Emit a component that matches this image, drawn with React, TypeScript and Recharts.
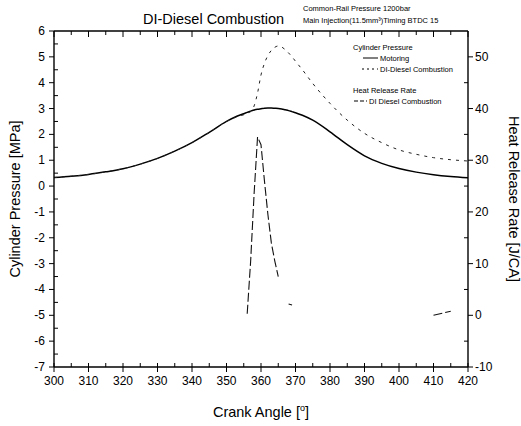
import { Line, LineChart, XAxis, YAxis } from "recharts";

const crankAngle = [
  300, 305, 310, 315, 320, 325, 330, 335, 340, 345, 350, 353, 355, 356, 357,
  358, 359, 360, 361, 362, 363, 364, 365, 366, 367, 368, 369, 370, 372, 375,
  380, 385, 390, 395, 400, 405, 410, 415, 420,
];

const motoringPressure = [
  0.33, 0.38, 0.45, 0.55, 0.67, 0.85, 1.07, 1.35, 1.68, 2.08, 2.5, 2.7, 2.8,
  2.85, 2.9, 2.94, 2.97, 2.99, 3.01, 3.02, 3.02, 3.01, 3.0, 2.98, 2.95, 2.92,
  2.88, 2.84, 2.74, 2.55, 2.1, 1.6, 1.17, 0.88, 0.68, 0.54, 0.44, 0.37, 0.32,
];

const combustionPressure = [
  0.33, 0.38, 0.45, 0.55, 0.67, 0.85, 1.07, 1.35, 1.68, 2.08, 2.5, 2.68, 2.76,
  2.82, 2.88, 3.1, 3.6, 4.3, 4.75, 5.05, 5.25, 5.37, 5.42, 5.38, 5.28, 5.15,
  5.0, 4.83, 4.5, 3.97, 3.2, 2.55, 2.04, 1.68, 1.4, 1.23, 1.1, 1.02, 0.97,
];

const heatReleaseRate = [
  null, null, null, null, null, null, null, null, null, null, null, null, null,
  0.3, 10.5, 23.5, 34.5, 33, 26, 19.5, 14, 10.5, 7.5, null, null, 2.2,
  2.0, null, null, null, null, null, null, null, null, null, 0, 0.8, null,
];

const angleTicks = [300, 310, 320, 330, 340, 350, 360, 370, 380, 390, 400, 410, 420];
const angleMinorTicks = [
  305, 315, 325, 335, 345, 355, 365, 375, 385, 395, 405, 415,
];
const pressureTicks = [-7, -6, -5, -4, -3, -2, -1, 0, 1, 2, 3, 4, 5, 6];
const pressureMinorTicks = [
  -6.5, -5.5, -4.5, -3.5, -2.5, -1.5, -0.5, 0.5, 1.5, 2.5, 3.5, 4.5, 5.5,
];
const hrrTicks = [-10, 0, 10, 20, 30, 40, 50];
const hrrMinorTicks = [-5, 5, 15, 25, 35, 45];

const data = crankAngle.map((angle, i) => ({
  angle,
  motoring: motoringPressure[i],
  combustion: combustionPressure[i],
  hrr: heatReleaseRate[i],
}));

const font = "'Liberation Sans', Arial, sans-serif";

// draws major/minor tick lines and labels from the axis position itself
function makeTick(side: "left" | "right" | "top" | "bottom", majors: number[], labels = true) {
  return (props: any) => {
    const { x, y, payload } = props;
    const v = payload.value;
    const major = majors.includes(v);
    const s = { stroke: "#000", strokeWidth: 1 };
    let ln = null;
    let label = null;
    if (side === "left") {
      ln = major ? <line x1={x - 5} y1={y} x2={x} y2={y} {...s} /> : <line x1={x} y1={y} x2={x + 4} y2={y} {...s} />;
      if (major && labels)
        label = <text x={x - 9} y={y + 4} textAnchor="end" fontSize={12} fill="#000">{v}</text>;
    } else if (side === "right") {
      ln = major ? <line x1={x} y1={y} x2={x + 5} y2={y} {...s} /> : <line x1={x - 4} y1={y} x2={x} y2={y} {...s} />;
      if (major && labels)
        label = <text x={x + 7} y={y + 4} textAnchor="start" fontSize={12} fill="#000">{v}</text>;
    } else if (side === "bottom") {
      ln = major ? <line x1={x} y1={y - 4} x2={x} y2={y + 5} {...s} /> : <line x1={x} y1={y - 4} x2={x} y2={y} {...s} />;
      if (major && labels)
        label = <text x={x} y={y + 18} textAnchor="middle" fontSize={12} fill="#000">{v}</text>;
    } else {
      ln = <line x1={x} y1={y} x2={x} y2={y + (major ? 6 : 4)} {...s} />;
    }
    return (
      <g fontFamily={font}>
        {ln}
        {label}
      </g>
    );
  };
}

export default function App() {
  return (
    <div
      style={{
        position: "absolute",
        left: 0,
        top: 0,
        width: 521,
        height: 426,
        background: "#fff",
        fontFamily: font,
      }}
    >
      <LineChart
        width={521}
        height={426}
        data={data}
        margin={{ top: 30, right: 0, bottom: 29, left: 0 }}
      >
        <XAxis
          xAxisId="b"
          dataKey="angle"
          type="number"
          domain={[300, 420]}
          ticks={[...angleTicks, ...angleMinorTicks]}
          interval={0}
          height={30}
          tickSize={0}
          tickMargin={0}
          tickLine={false}
          stroke="#000"
          strokeWidth={1.4}
          tick={makeTick("bottom", angleTicks)}
        />
        <XAxis
          xAxisId="t"
          orientation="top"
          dataKey="angle"
          type="number"
          domain={[300, 420]}
          ticks={[...angleTicks, ...angleMinorTicks]}
          interval={0}
          height={1}
          tickSize={0}
          tickMargin={0}
          tickLine={false}
          stroke="#000"
          strokeWidth={1.4}
          tick={makeTick("top", angleTicks, false)}
        />
        <YAxis
          yAxisId="p"
          domain={[-7, 6]}
          ticks={[...pressureTicks, ...pressureMinorTicks]}
          interval={0}
          width={54}
          tickSize={0}
          tickMargin={0}
          tickLine={false}
          stroke="#000"
          strokeWidth={1.4}
          tick={makeTick("left", pressureTicks)}
        />
        <YAxis
          yAxisId="h"
          orientation="right"
          domain={[-10, 55]}
          ticks={[...hrrTicks, ...hrrMinorTicks]}
          interval={0}
          width={53}
          tickSize={0}
          tickMargin={0}
          tickLine={false}
          stroke="#000"
          strokeWidth={1.4}
          tick={makeTick("right", hrrTicks)}
        />
        <Line
          xAxisId="b"
          yAxisId="p"
          dataKey="motoring"
          type="monotone"
          stroke="#000"
          strokeWidth={1.5}
          dot={false}
          isAnimationActive={false}
        />
        <Line
          xAxisId="b"
          yAxisId="p"
          dataKey="combustion"
          type="monotone"
          stroke="#222"
          strokeWidth={1}
          strokeDasharray="3 5"
          dot={false}
          isAnimationActive={false}
        />
        <Line
          xAxisId="b"
          yAxisId="h"
          dataKey="hrr"
          type="linear"
          stroke="#111"
          strokeWidth={1.1}
          strokeDasharray="9 3"
          dot={false}
          connectNulls={false}
          isAnimationActive={false}
        />
      </LineChart>

      <svg
        width={521}
        height={426}
        style={{ position: "absolute", left: 0, top: 0, pointerEvents: "none" }}
        fontFamily={font}
      >
        <text x={143} y={24} fontSize={14.5} fill="#000">
          DI-Diesel Combustion
        </text>
        <text x={303} y={11} fontSize={7.5} fill="#000">
          Common-Rail Pressure 1200bar
        </text>
        <text x={303} y={23} fontSize={7.5} fill="#000">
          Main Injection(11.5mm³)Timing BTDC 15
        </text>

        <text x={353} y={50} fontSize={7.5} fill="#000">
          Cylinder Pressure
        </text>
        <line x1={363} y1={58} x2={378} y2={58} stroke="#000" strokeWidth={1} />
        <text x={380} y={61} fontSize={7.5} fill="#000">
          Motoring
        </text>
        <line
          x1={362}
          y1={69}
          x2={378}
          y2={69}
          stroke="#000"
          strokeWidth={1}
          strokeDasharray="2 3"
        />
        <text x={380} y={72} fontSize={7.5} fill="#000">
          DI-Diesel Combustion
        </text>
        <text x={353} y={93} fontSize={7.5} fill="#000">
          Heat Release Rate
        </text>
        <line
          x1={354}
          y1={101}
          x2={367}
          y2={101}
          stroke="#000"
          strokeWidth={1}
          strokeDasharray="4 2"
        />
        <text x={369} y={104} fontSize={7.5} fill="#000">
          DI Diesel Combustion
        </text>

        <text
          x={0}
          y={0}
          fontSize={14.5}
          fill="#000"
          textAnchor="middle"
          transform="translate(20 199) rotate(-90)"
        >
          Cylinder Pressure [MPa]
        </text>
        <text
          x={0}
          y={0}
          fontSize={14.5}
          fill="#000"
          textAnchor="middle"
          transform="translate(509 199) rotate(90)"
        >
          Heat Release Rate [J/CA]
        </text>
        <text x={261} y={417} fontSize={14.5} fill="#000" textAnchor="middle">
          Crank Angle [
          <tspan fontSize={9} dy={-6}>
            o
          </tspan>
          <tspan dy={6}>]</tspan>
        </text>
      </svg>
    </div>
  );
}
